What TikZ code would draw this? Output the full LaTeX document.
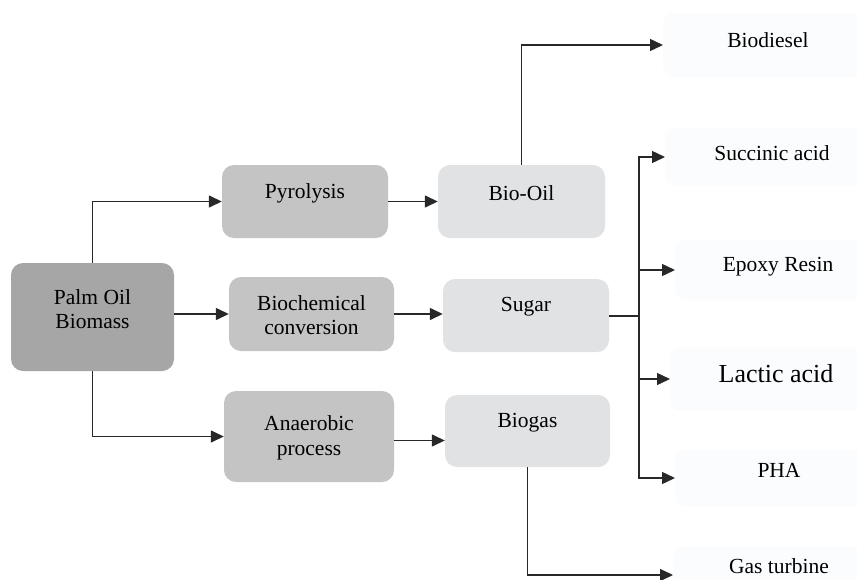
\documentclass[tikz,border=0pt]{standalone}
\usepackage{fontspec}
\setmainfont{Liberation Serif}
\usetikzlibrary{arrows.meta}
\definecolor{palmc}{RGB}{166,166,166}
\definecolor{procc}{RGB}{196,196,196}
\definecolor{prodc}{RGB}{224,226,227}
\definecolor{outc}{RGB}{251,252,253}
\definecolor{linec}{RGB}{40,40,40}
\tikzset{
  box/.style={draw=none, rounded corners=12pt, inner sep=0pt},
  palmbox/.style={box, fill=palmc},
  procbox/.style={box, fill=procc},
  prodbox/.style={box, fill=prodc},
  outbox/.style={box, fill=outc, rounded corners=10pt, font=\fontsize{21.5}{24}\selectfont},
  lbl/.style={inner sep=0pt, align=center, font=\fontsize{21.5}{24.5}\selectfont},
  arr/.style={draw=linec, line width=1.4pt, -{Triangle[length=13pt,width=12pt]}},
  ln/.style={draw=linec, line width=1.4pt},
}
\begin{document}
\begin{tikzpicture}[x=1pt,y=-1pt]
\useasboundingbox (0,0) rectangle (857,579);
\fill[white] (0,0) rectangle (857,579);
% main boxes
\node[palmbox, minimum width=163pt, minimum height=108pt] (palm) at (92.5,317) {};
\node[lbl] (palmt) at (92.5,309) {Palm Oil\\Biomass};
\node[procbox, minimum width=166pt, minimum height=73pt] (pyro) at (305,201.5) {};
\node[lbl] (pyrot) at (305,193) {Pyrolysis};
\node[prodbox, minimum width=167pt, minimum height=73pt] (biooil) at (521.5,201.5) {};
\node[lbl] (biooilt) at (521.5,193) {Bio-Oil};
\node[procbox, minimum width=165pt, minimum height=74pt] (biochem) at (311.5,314) {};
\node[lbl] (biochemt) at (311.5,315) {Biochemical\\conversion};
\node[prodbox, minimum width=166pt, minimum height=73pt] (sugar) at (526,315.5) {};
\node[lbl] (sugart) at (526,307) {Sugar};
\node[procbox, minimum width=170pt, minimum height=91pt] (anaer) at (309,436.5) {};
\node[lbl] (anaert) at (309,438) {Anaerobic\\process};
\node[prodbox, minimum width=165pt, minimum height=72pt] (biogas) at (527.5,431) {};
\node[lbl] (biogast) at (527.5,423) {Biogas};
% output boxes
\node[outbox, minimum width=207pt, minimum height=64pt, anchor=west] (biodiesel) at (663,45) {};
\node[lbl] (biodieselt) at (768,40) {Biodiesel};
\node[outbox, minimum width=205pt, minimum height=58pt, anchor=west] (succ) at (665,157) {};
\node[lbl] (succt) at (772,153) {Succinic acid};
\node[outbox, minimum width=195pt, minimum height=60pt, anchor=west] (epoxy) at (675,270) {};
\node[lbl] (epoxyt) at (778,267) {Epoxy Resin};
\node[outbox, minimum width=200pt, minimum height=63pt, anchor=west] (lactic) at (670,379) {};
\node[lbl, font=\fontsize{26}{28}\selectfont] (lactict) at (776,374) {Lactic acid};
\node[outbox, minimum width=195pt, minimum height=57pt, anchor=west] (pha) at (675,478) {};
\node[lbl] (phat) at (779,470) {PHA};
\node[outbox, minimum width=195pt, minimum height=56pt, anchor=west] (gas) at (673,575) {};
\node[lbl] (gast) at (779,566) {Gas turbine};
% connectors
\draw[arr] (palm.north) |- (pyro.west);
\draw[arr] ([yshift=3pt]palm.east) -- ([yshift=3pt]palm.east -| biochem.west);
\draw[arr] (palm.south) |- (anaer.west);
\draw[arr] (pyro.east) -- (biooil.west);
\draw[arr] (biochem.east) -- (biochem.east -| sugar.west);
\draw[arr] ([yshift=-4pt]anaer.east) -- ([yshift=-4pt]anaer.east -| biogas.west);
\draw[arr] (biooil.north) |- (biodiesel.west);
\coordinate (split) at (639,316);
\draw[ln] (sugar.east |- split) -- (split);
\draw[arr] (split) |- (succ.west);
\draw[arr] (split) |- (epoxy.west);
\draw[arr] (split) |- (lactic.west);
\draw[arr] (split) |- (pha.west);
\draw[arr] (biogas.south) |- (gas.west);
\end{tikzpicture}
\end{document}
